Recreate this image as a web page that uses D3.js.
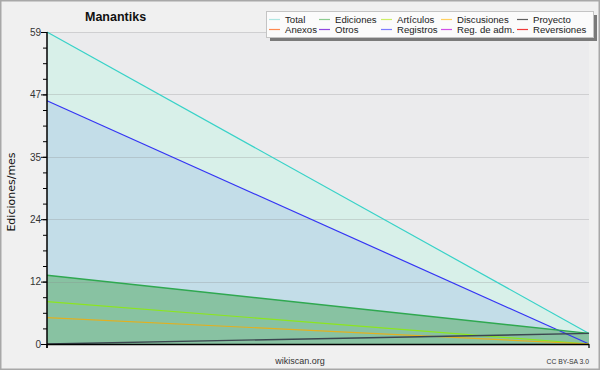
<!DOCTYPE html>
<html>
<head>
<meta charset="utf-8">
<script src="https://cdn.jsdelivr.net/npm/d3@7"></script>
<style>
  html, body { margin: 0; padding: 0; background: #f0f0f0; }
  svg { display: block; }
</style>
</head>
<body>
<script>
// ---- data ----
const title = "Manantiks";
const yLabel = "Ediciones/mes";
const months = ["m1", "m2"];
const totalVals = [59, 2];
const registrosVals = [46, 0];
const edicionesVals = [13, 2];
const articulosVals = [8, 0];
const discusionesVals = [5, 0];
const proyectoVals = [0, 2];
const yMax = 59;
const legendNames = ["Total", "Ediciones", "Artículos", "Discusiones", "Proyecto",
                     "Anexos", "Otros", "Registros", "Reg. de adm.", "Reversiones"];
const legendColors = ["#aee6e2", "#8ccc90", "#cdee66", "#ffd060", "#606060",
                      "#ff8a50", "#9048e0", "#7c7cff", "#d050e8", "#f03a3a"];

(function () {
// ---- layout ----
const W = 600, H = 370;
const pLeft = 47, pRight = 589, pTop = 32, pBottom = 344;

const svg = d3.select("body").append("svg").attr("width", W).attr("height", H);

svg.append("rect").attr("x", 0.5).attr("y", 0.5).attr("width", W - 1).attr("height", H - 1)
  .attr("fill", "#f0f0f0").attr("stroke", "#a8a8a8").attr("stroke-width", 2);

const x = d3.scalePoint().domain(months).range([pLeft, pRight]);
const y = d3.scaleLinear().domain([0, yMax]).range([pBottom, pTop]);

// plot background
svg.append("rect").attr("x", pLeft).attr("y", pTop).attr("width", pRight - pLeft).attr("height", pBottom - pTop)
  .attr("fill", "#ebebed");

const majorTicks = d3.range(0, 6).map(i => yMax * i / 5);
const minorTicks = d3.range(0, 21).map(i => yMax * i / 20);

function areaOf(vals, fill) {
  const a = d3.area().x((d, i) => x(months[i])).y0(y(0)).y1(d => y(d));
  svg.append("path").datum(vals).attr("d", a).attr("fill", fill);
}
function lineOf(vals, color, w) {
  const l = d3.line().x((d, i) => x(months[i])).y(d => y(d));
  svg.append("path").datum(vals).attr("d", l).attr("fill", "none")
    .attr("stroke", color).attr("stroke-width", w || 1.2);
}

areaOf(totalVals, "#d8f0e9");
areaOf(registrosVals, "#c3dde8");
areaOf(edicionesVals, "#88c2a2");

// grid lines over fills
svg.append("g").selectAll("line").data(majorTicks.slice(1)).join("line")
  .attr("x1", pLeft).attr("x2", pRight)
  .attr("y1", d => Math.round(y(d)) + 0.5).attr("y2", d => Math.round(y(d)) + 0.5)
  .attr("stroke", "#8a8a8a").attr("stroke-opacity", 0.28).attr("stroke-width", 1);

lineOf(totalVals, "#38d2c8");
lineOf(registrosVals, "#3434f4");
lineOf(edicionesVals, "#2fa850", 1.4);
lineOf(articulosVals, "#8ce61e");
lineOf(discusionesVals, "#e2b020");
lineOf(proyectoVals, "#3c4650", 1.4);

// y axis
const yAxisMajor = d3.axisLeft(y).tickValues(majorTicks).tickSize(6)
  .tickFormat(d => Math.round(d));
const gy = svg.append("g").attr("transform", `translate(${pLeft},0)`).call(yAxisMajor);
gy.select(".domain").remove();
gy.selectAll("text").attr("font-family", "Liberation Sans, Arial, sans-serif")
  .attr("font-size", 10).attr("fill", "#333").attr("x", -6);
gy.selectAll("line").attr("stroke", "#000");
const gyMinor = svg.append("g").attr("transform", `translate(${pLeft},0)`)
  .call(d3.axisLeft(y).tickValues(minorTicks).tickSize(4).tickFormat(""));
gyMinor.select(".domain").remove();
gyMinor.selectAll("line").attr("stroke", "#000");

svg.append("line").attr("x1", pLeft).attr("x2", pLeft).attr("y1", pTop).attr("y2", pBottom + 4)
  .attr("stroke", "#000").attr("stroke-width", 1.5);
// x axis
svg.append("line").attr("x1", pLeft).attr("x2", pRight).attr("y1", pBottom + 0.5).attr("y2", pBottom + 0.5)
  .attr("stroke", "#000").attr("stroke-width", 1.5);
svg.append("g").selectAll("line").data(months).join("line")
  .attr("x1", d => x(d)).attr("x2", d => x(d)).attr("y1", pBottom).attr("y2", pBottom + 4)
  .attr("stroke", "#000").attr("stroke-width", 1.2);

// title
svg.append("text").attr("x", 85).attr("y", 21).text(title)
  .attr("font-family", "Liberation Sans, Arial, sans-serif").attr("font-weight", "bold")
  .attr("font-size", 12.5).attr("fill", "#111");

// y label
svg.append("text").attr("transform", `translate(15,${(pTop + pBottom) / 2 + 4}) rotate(-90)`)
  .attr("text-anchor", "middle").text(yLabel)
  .attr("font-family", "DejaVu Sans, sans-serif").attr("font-size", 11).attr("fill", "#111");

// footer
svg.append("text").attr("x", 300).attr("y", 364).attr("text-anchor", "middle").text("wikiscan.org")
  .attr("font-family", "Liberation Sans, Arial, sans-serif").attr("font-size", 9).attr("fill", "#333");
svg.append("text").attr("x", 589).attr("y", 364).attr("text-anchor", "end").text("CC BY-SA 3.0")
  .attr("font-family", "Liberation Sans, Arial, sans-serif").attr("font-size", 6.8).attr("fill", "#333");

// legend
const lgX = 266, lgY = 11, lgW = 327, lgH = 26;
svg.append("rect").attr("x", lgX + 4).attr("y", lgY + 4).attr("width", lgW).attr("height", lgH)
  .attr("fill", "#7a7a7a");
svg.append("rect").attr("x", lgX + 0.5).attr("y", lgY + 0.5).attr("width", lgW).attr("height", lgH)
  .attr("fill", "#fbfbfb").attr("stroke", "#c4c4c4");
const colTextX = [285, 335, 397, 457, 533];
const rowY = [19.5, 29.5];
legendNames.forEach((name, i) => {
  const c = i % 5, r = Math.floor(i / 5);
  const tx = colTextX[c], ly = rowY[r];
  svg.append("line").attr("x1", tx - 16).attr("x2", tx - 5).attr("y1", ly).attr("y2", ly)
    .attr("stroke", legendColors[i]).attr("stroke-width", 1.2);
  svg.append("text").attr("x", tx).attr("y", ly + 3.3).text(name)
    .attr("font-family", "Liberation Sans, Arial, sans-serif").attr("font-size", 9.6).attr("fill", "#222");
});
})();
</script>
</body>
</html>
